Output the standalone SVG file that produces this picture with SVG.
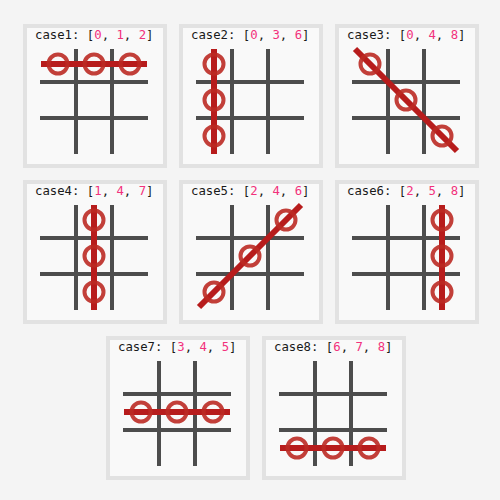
<svg xmlns="http://www.w3.org/2000/svg" xmlns:xlink="http://www.w3.org/1999/xlink" width="500" height="500" viewBox="0 0 500 500">
<style>
.bg{fill:#f4f4f4}
.panel{fill:#f9f9f9;stroke:#e2e2e2;stroke-width:4}
.g{stroke:#4d4d4d;stroke-width:4;fill:none}
.win{stroke:#b71c1c;stroke-width:6;fill:none}
.c{stroke:#bb2a24;stroke-opacity:0.9;stroke-width:4;fill:none}
.t{font-family:"DejaVu Sans Mono","Liberation Mono",monospace;font-size:12.3px;fill:#1a1a1a}
.n{fill:#f2317c}
</style>
<defs>
<g id="board">
<rect class="panel" x="2" y="2" width="140" height="140"/>
<path class="g" d="M53 25V130M89 25V130M17 58H125M17 94H125"/>
</g>
</defs>
<rect class="bg" width="500" height="500"/>
<g id="case1" transform="translate(23,24)">
<use xlink:href="#board"/>
<text class="t" x="12" y="15">case1: [<tspan class="n">0</tspan>, <tspan class="n">1</tspan>, <tspan class="n">2</tspan>]</text>
<line class="win" x1="18" y1="40" x2="124" y2="40"/>
<circle class="c" cx="35" cy="40" r="9.5"/><circle class="c" cx="71" cy="40" r="9.5"/><circle class="c" cx="107" cy="40" r="9.5"/>
</g>
<g id="case2" transform="translate(179,24)">
<use xlink:href="#board"/>
<text class="t" x="12" y="15">case2: [<tspan class="n">0</tspan>, <tspan class="n">3</tspan>, <tspan class="n">6</tspan>]</text>
<line class="win" x1="35" y1="25" x2="35" y2="130"/>
<circle class="c" cx="35" cy="40" r="9.5"/><circle class="c" cx="35" cy="76" r="9.5"/><circle class="c" cx="35" cy="112" r="9.5"/>
</g>
<g id="case3" transform="translate(335,24)">
<use xlink:href="#board"/>
<text class="t" x="12" y="15">case3: [<tspan class="n">0</tspan>, <tspan class="n">4</tspan>, <tspan class="n">8</tspan>]</text>
<line class="win" x1="20" y1="25" x2="122" y2="127"/>
<circle class="c" cx="35" cy="40" r="9.5"/><circle class="c" cx="71" cy="76" r="9.5"/><circle class="c" cx="107" cy="112" r="9.5"/>
</g>
<g id="case4" transform="translate(23,180)">
<use xlink:href="#board"/>
<text class="t" x="12" y="15">case4: [<tspan class="n">1</tspan>, <tspan class="n">4</tspan>, <tspan class="n">7</tspan>]</text>
<line class="win" x1="71" y1="25" x2="71" y2="130"/>
<circle class="c" cx="71" cy="40" r="9.5"/><circle class="c" cx="71" cy="76" r="9.5"/><circle class="c" cx="71" cy="112" r="9.5"/>
</g>
<g id="case5" transform="translate(179,180)">
<use xlink:href="#board"/>
<text class="t" x="12" y="15">case5: [<tspan class="n">2</tspan>, <tspan class="n">4</tspan>, <tspan class="n">6</tspan>]</text>
<line class="win" x1="122" y1="25" x2="20" y2="127"/>
<circle class="c" cx="107" cy="40" r="9.5"/><circle class="c" cx="71" cy="76" r="9.5"/><circle class="c" cx="35" cy="112" r="9.5"/>
</g>
<g id="case6" transform="translate(335,180)">
<use xlink:href="#board"/>
<text class="t" x="12" y="15">case6: [<tspan class="n">2</tspan>, <tspan class="n">5</tspan>, <tspan class="n">8</tspan>]</text>
<line class="win" x1="107" y1="25" x2="107" y2="130"/>
<circle class="c" cx="107" cy="40" r="9.5"/><circle class="c" cx="107" cy="76" r="9.5"/><circle class="c" cx="107" cy="112" r="9.5"/>
</g>
<g id="case7" transform="translate(106,336)">
<use xlink:href="#board"/>
<text class="t" x="12" y="15">case7: [<tspan class="n">3</tspan>, <tspan class="n">4</tspan>, <tspan class="n">5</tspan>]</text>
<line class="win" x1="18" y1="76" x2="124" y2="76"/>
<circle class="c" cx="35" cy="76" r="9.5"/><circle class="c" cx="71" cy="76" r="9.5"/><circle class="c" cx="107" cy="76" r="9.5"/>
</g>
<g id="case8" transform="translate(262,336)">
<use xlink:href="#board"/>
<text class="t" x="12" y="15">case8: [<tspan class="n">6</tspan>, <tspan class="n">7</tspan>, <tspan class="n">8</tspan>]</text>
<line class="win" x1="18" y1="112" x2="124" y2="112"/>
<circle class="c" cx="35" cy="112" r="9.5"/><circle class="c" cx="71" cy="112" r="9.5"/><circle class="c" cx="107" cy="112" r="9.5"/>
</g>
</svg>
